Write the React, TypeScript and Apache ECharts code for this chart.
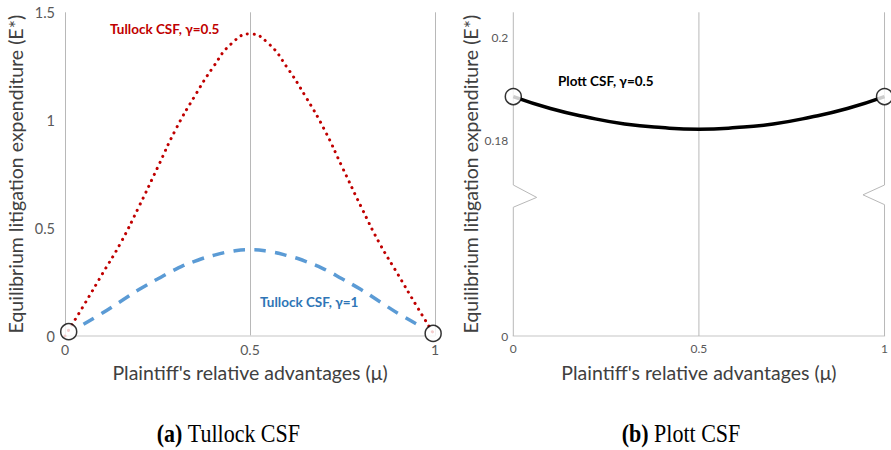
import React, { useEffect, useRef } from "react";
import * as echarts from "echarts";

// ---------- data ----------
const tullockMu = [0, 0.05, 0.1, 0.15, 0.2, 0.25, 0.3, 0.35, 0.4, 0.45, 0.5, 0.55, 0.6, 0.65, 0.7, 0.75, 0.8, 0.85, 0.9, 0.95, 1];
const tullockHalf = [0, 0.14, 0.285, 0.43, 0.6, 0.78, 0.96, 1.11, 1.245, 1.355, 1.4, 1.355, 1.245, 1.11, 0.96, 0.78, 0.6, 0.43, 0.285, 0.14, 0];
const tullockOneMu = [0.05, 0.1, 0.15, 0.2, 0.25, 0.3, 0.35, 0.4, 0.45, 0.5, 0.55, 0.6, 0.65, 0.7, 0.75, 0.8, 0.85, 0.9, 0.95];
const tullockOne = [0.054, 0.105, 0.16, 0.215, 0.264, 0.31, 0.346, 0.373, 0.392, 0.4, 0.392, 0.373, 0.346, 0.31, 0.264, 0.215, 0.16, 0.105, 0.056];
const tullockEndsMu = [0.01, 0.995];
const tullockEnds = [0.02, 0.012];

const plottMu = [0, 0.1, 0.2, 0.3, 0.4, 0.5, 0.6, 0.7, 0.8, 0.9, 1];
const plott = [0.1885, 0.1862, 0.1845, 0.1832, 0.1825, 0.1822, 0.1825, 0.1832, 0.1845, 0.1862, 0.1885];
const plottEndsMu = [0, 1];
const plottEnds = [0.1885, 0.1885];

const xTicks = [0, 0.5, 1];
const leftYTicks = [0, 0.5, 1, 1.5];
// right panel: broken axis, bottom of the axis is labelled "0"
const RIGHT_MIN = 0.1422;
const RIGHT_MAX = 0.2048;
const rightYTicks = [RIGHT_MIN, 0.18, 0.2];
// axis-break zig-zags (mu offset, value)
const breakLeftMu = [0, 0, 0.063, 0, 0];
const breakLeftVal = [RIGHT_MAX, 0.1714, 0.169, 0.1671, RIGHT_MIN];
const breakRightMu = [1, 1, 0.942, 1, 1];
const breakRightVal = [RIGHT_MAX, 0.1714, 0.1695, 0.1676, RIGHT_MIN];

const xName = "Plaintiff's relative advantages (\u03bc)";
const yName = "Equilibrium litigation expenditure (E*)";

const FONT = "Lato";
const GRID_COLOR = "#b8b8b8";

export default function App() {
  const ref = useRef<HTMLDivElement>(null);
  useEffect(() => {
    if (!ref.current) return;
    const chart = echarts.init(ref.current, null, { renderer: "svg" });
    const zip = (xs: number[], ys: number[]) => xs.map((x, i) => [x, ys[i]]);

    const baseX = (grid: number, fs: number, showSplit: boolean) => ({
      type: "value",
      gridIndex: grid,
      min: 0,
      max: 1,
      interval: 0.5,
      axisLine: { show: true, lineStyle: { color: "#d9d9d9", width: 1.5 } },
      axisTick: { show: false },
      splitLine: { show: showSplit, lineStyle: { color: GRID_COLOR, width: 1 } },
      axisLabel: { fontSize: fs, color: "#595959", fontFamily: FONT, margin: 6, customValues: xTicks },
      name: xName,
      nameLocation: "middle",
      nameGap: 26,
      nameTextStyle: { fontSize: 19.5, color: "#404040", fontFamily: FONT, verticalAlign: "top" },
    });

    chart.setOption({
      animation: false,
      grid: [
        { left: 65, top: 12.3, width: 370, height: 323.7 },
        { left: 513.3, top: 12.3, width: 371.7, height: 323.7 },
      ],
      xAxis: [baseX(0, 14, true), baseX(1, 12, false)],
      yAxis: [
        {
          type: "value",
          gridIndex: 0,
          min: 0,
          max: 1.5,
          interval: 0.5,
          axisLine: { show: false },
          axisTick: { show: false },
          splitLine: { show: false },
          axisLabel: { fontSize: 14.5, color: "#595959", fontFamily: FONT, margin: 10, customValues: leftYTicks },
          name: yName,
          nameLocation: "middle",
          nameGap: 40,
          nameTextStyle: { fontSize: 19.5, color: "#404040", fontFamily: FONT },
        },
        {
          type: "value",
          gridIndex: 1,
          min: RIGHT_MIN,
          max: RIGHT_MAX,
          axisLine: { show: false },
          axisTick: { show: false },
          splitLine: { show: false },
          axisLabel: {
            fontSize: 12,
            color: "#595959",
            fontFamily: FONT,
            margin: 5,
            customValues: rightYTicks,
            formatter: (v: number) => (Math.abs(v - RIGHT_MIN) < 1e-6 ? "0" : String(v)),
          },
          name: yName,
          nameLocation: "middle",
          nameGap: 30,
          nameTextStyle: { fontSize: 19.5, color: "#404040", fontFamily: FONT },
        },
      ],
      series: [
        {
          type: "line",
          xAxisIndex: 0,
          yAxisIndex: 0,
          data: zip(tullockMu, tullockHalf),
          smooth: true,
          symbol: "none",
          clip: false,
          lineStyle: { color: "#C00000", width: 3, type: [0.1, 6.5], cap: "round" },
          z: 3,
        },
        {
          type: "line",
          xAxisIndex: 0,
          yAxisIndex: 0,
          data: zip(tullockOneMu, tullockOne),
          smooth: true,
          symbol: "none",
          clip: false,
          lineStyle: { color: "#5B9BD5", width: 3.5, type: [12, 9], cap: "butt" },
          z: 3,
        },
        {
          type: "scatter",
          xAxisIndex: 0,
          yAxisIndex: 0,
          data: zip(tullockEndsMu, tullockEnds),
          symbol: "circle",
          symbolSize: 16,
          clip: false,
          itemStyle: { color: "#ffffff", borderColor: "#000000", borderWidth: 1.5 },
          z: 10,
        },
        // right panel vertical lines (with axis breaks)
        {
          type: "line",
          xAxisIndex: 1,
          yAxisIndex: 1,
          data: zip(breakLeftMu, breakLeftVal),
          symbol: "none",
          clip: false,
          silent: true,
          lineStyle: { color: GRID_COLOR, width: 1 },
          z: 1,
        },
        {
          type: "line",
          xAxisIndex: 1,
          yAxisIndex: 1,
          data: zip(breakRightMu, breakRightVal),
          symbol: "none",
          clip: false,
          silent: true,
          lineStyle: { color: GRID_COLOR, width: 1 },
          z: 1,
        },
        {
          type: "line",
          xAxisIndex: 1,
          yAxisIndex: 1,
          data: [
            [0.5, RIGHT_MIN],
            [0.5, RIGHT_MAX],
          ],
          symbol: "none",
          clip: false,
          silent: true,
          lineStyle: { color: GRID_COLOR, width: 1 },
          z: 1,
        },
        {
          type: "line",
          xAxisIndex: 1,
          yAxisIndex: 1,
          data: zip(plottMu, plott),
          smooth: true,
          symbol: "none",
          clip: false,
          lineStyle: { color: "#000000", width: 3.5 },
          z: 3,
        },
        {
          type: "scatter",
          xAxisIndex: 1,
          yAxisIndex: 1,
          data: zip(plottEndsMu, plottEnds),
          symbol: "circle",
          symbolSize: 16,
          clip: false,
          itemStyle: { color: "#ffffff", borderColor: "#000000", borderWidth: 1.5 },
          z: 10,
        },
      ],
      graphic: [
        {
          type: "text",
          x: 110,
          y: 29,
          style: { text: "Tullock CSF, \u03b3=0.5", font: `bold 13.5px ${FONT}`, fill: "#C00000", textVerticalAlign: "middle" },
        },
        {
          type: "text",
          x: 260,
          y: 302,
          style: { text: "Tullock CSF, \u03b3=1", font: `bold 13.5px ${FONT}`, fill: "#2E75B6", textVerticalAlign: "middle" },
        },
        {
          type: "text",
          x: 558,
          y: 81,
          style: { text: "Plott CSF, \u03b3=0.5", font: `bold 13.5px ${FONT}`, fill: "#000000", textVerticalAlign: "middle" },
        },
        {
          type: "text",
          x: 228.5,
          y: 434,
          scaleY: 1.1,
          originX: 0,
          originY: 0,
          style: {
            text: "{b|(a)} Tullock CSF",
            font: '22px "Liberation Serif"',
            fill: "#000",
            align: "center",
            verticalAlign: "middle",
            rich: { b: { fontWeight: "bold", fontSize: 22, fontFamily: "Liberation Serif" } },
          },
        },
        {
          type: "text",
          x: 681,
          y: 434,
          scaleY: 1.1,
          originX: 0,
          originY: 0,
          style: {
            text: "{b|(b)} Plott CSF",
            font: '22px "Liberation Serif"',
            fill: "#000",
            align: "center",
            verticalAlign: "middle",
            rich: { b: { fontWeight: "bold", fontSize: 22, fontFamily: "Liberation Serif" } },
          },
        },
      ],
    });
    return () => chart.dispose();
  }, []);
  return <div ref={ref} style={{ position: "absolute", left: 0, top: 0, width: 891, height: 450 }} />;
}
